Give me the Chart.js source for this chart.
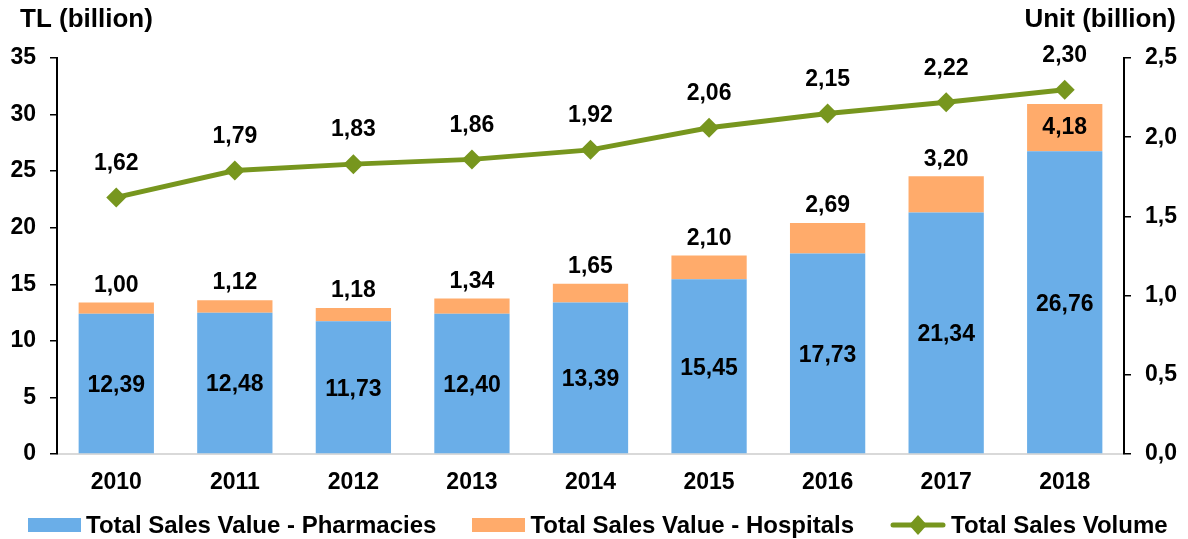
<!DOCTYPE html>
<html>
<head>
<meta charset="utf-8">
<script src="https://cdn.jsdelivr.net/npm/chart.js@4"></script>
<style>
html, body { margin: 0; padding: 0; background: #fff; }
#wrap { position: relative; width: 1188px; height: 539px; }
#legend {
    position: absolute; left: 28px; top: 510px; height: 30px;
    display: flex; align-items: center; white-space: nowrap;
    font: bold 24px 'Liberation Sans', Arial, sans-serif; color: #000;
}
#legend .item { display: flex; align-items: center; margin-right: 36px; }
#legend .sw { width: 53px; height: 14px; margin-right: 5px; }
#legend svg { margin-right: 5px; }
</style>
</head>
<body>
<div id="wrap">
  <canvas id="sales"></canvas>
  <div id="legend"></div>
</div>
<script>
const years = ["2010", "2011", "2012", "2013", "2014", "2015", "2016", "2017", "2018"];
const pharmacies = [12.39, 12.48, 11.73, 12.40, 13.39, 15.45, 17.73, 21.34, 26.76];
const hospitals = [1.00, 1.12, 1.18, 1.34, 1.65, 2.10, 2.69, 3.20, 4.18];
const volume = [1.62, 1.79, 1.83, 1.86, 1.92, 2.06, 2.15, 2.22, 2.30];
const seriesNames = ["Total Sales Value - Pharmacies", "Total Sales Value - Hospitals", "Total Sales Volume"];

const BLUE = "#6AAEE8";
const ORANGE = "#FFAB6B";
const GREEN = "#77961E";
const FONT = "'Liberation Sans', Arial, sans-serif";

const comma = (v, d) => v.toFixed(d).replace(".", ",");

const labelPlugin = {
    id: "labels",
    afterDatasetsDraw(chart) {
        const ctx = chart.ctx;
        ctx.save();
        ctx.fillStyle = "#000";
        ctx.font = "bold 23px " + FONT;
        ctx.textAlign = "center";
        ctx.textBaseline = "middle";
        chart.getDatasetMeta(0).data.forEach((bar, i) => {
            ctx.fillText(comma(pharmacies[i], 2), bar.x, (bar.y + bar.base) / 2 + 2);
        });
        chart.getDatasetMeta(1).data.forEach((bar, i) => {
            const h = bar.base - bar.y;
            const y = h > 40 ? (bar.y + bar.base) / 2 : bar.y - 17;
            ctx.fillText(comma(hospitals[i], 2), bar.x, y);
        });
        chart.getDatasetMeta(2).data.forEach((pt, i) => {
            ctx.fillText(comma(volume[i], 2), pt.x, pt.y - 34);
        });
        ctx.restore();
    },
    afterDraw(chart) {
        const ctx = chart.ctx;
        ctx.save();
        ctx.fillStyle = "#000";
        ctx.font = "bold 26px " + FONT;
        ctx.textBaseline = "middle";
        ctx.textAlign = "left";
        ctx.fillText("TL (billion)", 20, 20);
        ctx.textAlign = "right";
        ctx.fillText("Unit (billion)", 1176, 20);
        ctx.restore();
    }
};

const chart = new Chart(document.getElementById("sales"), {
    type: "bar",
    data: {
        labels: years,
        datasets: [{
            label: seriesNames[0],
            data: pharmacies,
            backgroundColor: BLUE,
            yAxisID: "y",
            order: 2
        }, {
            label: seriesNames[1],
            data: hospitals,
            backgroundColor: ORANGE,
            yAxisID: "y",
            order: 2
        }, {
            type: "line",
            label: seriesNames[2],
            data: volume,
            yAxisID: "y1",
            borderColor: GREEN,
            backgroundColor: GREEN,
            borderWidth: 5,
            pointStyle: "rectRot",
            pointRadius: 10,
            pointBorderWidth: 0,
            tension: 0,
            order: 1
        }]
    },
    options: {
        responsive: true,
        maintainAspectRatio: false,
        animation: false,
        datasets: {
            bar: { categoryPercentage: 1, barPercentage: 0.635 }
        },
        layout: { padding: { top: 58, left: 0, right: 0, bottom: 45 } },
        scales: {
            x: {
                stacked: true,
                grid: { display: false },
                border: { color: "#D9D9D9", width: 2 },
                ticks: { color: "#000", font: { family: FONT, size: 23, weight: "bold" }, padding: 7 },
                afterFit(scale) { scale.height = 40; }
            },
            y: {
                stacked: true,
                min: 0, max: 35,
                ticks: { stepSize: 5, color: "#000", padding: 14, font: { family: FONT, size: 23, weight: "bold" } },
                grid: { drawOnChartArea: false, color: "#000", lineWidth: 1.5, tickLength: 7 },
                border: { color: "#000", width: 2 },
                afterFit(scale) { scale.width = 57; }
            },
            y1: {
                position: "right",
                min: 0, max: 2.5,
                ticks: { stepSize: 0.5, color: "#000", padding: 14, font: { family: FONT, size: 23, weight: "bold" },
                    callback: v => comma(v, 1) },
                grid: { drawOnChartArea: false, color: "#000", lineWidth: 1.5, tickLength: 7 },
                border: { color: "#000", width: 2 },
                afterFit(scale) { scale.width = 64; }
            }
        },
        plugins: {
            tooltip: { enabled: false },
            legend: { display: false }
        }
    },
    plugins: [labelPlugin]
});

// html legend
const legend = document.getElementById("legend");
chart.data.datasets.forEach((ds, i) => {
    const item = document.createElement("div");
    item.className = "item";
    if (ds.type === "line") {
        item.innerHTML = '<svg width="56" height="22" viewBox="0 0 56 22">' +
            '<line x1="3" y1="11" x2="53" y2="11" stroke="' + ds.borderColor + '" stroke-width="5" stroke-linecap="round"/>' +
            '<polygon points="28,1 37,11 28,21 19,11" fill="' + ds.borderColor + '"/></svg>';
        item.style.marginRight = "0";
    } else {
        const sw = document.createElement("span");
        sw.className = "sw";
        sw.style.background = ds.backgroundColor;
        item.appendChild(sw);
    }
    const txt = document.createElement("span");
    txt.textContent = ds.label;
    item.appendChild(txt);
    legend.appendChild(item);
});
</script>
</body>
</html>
